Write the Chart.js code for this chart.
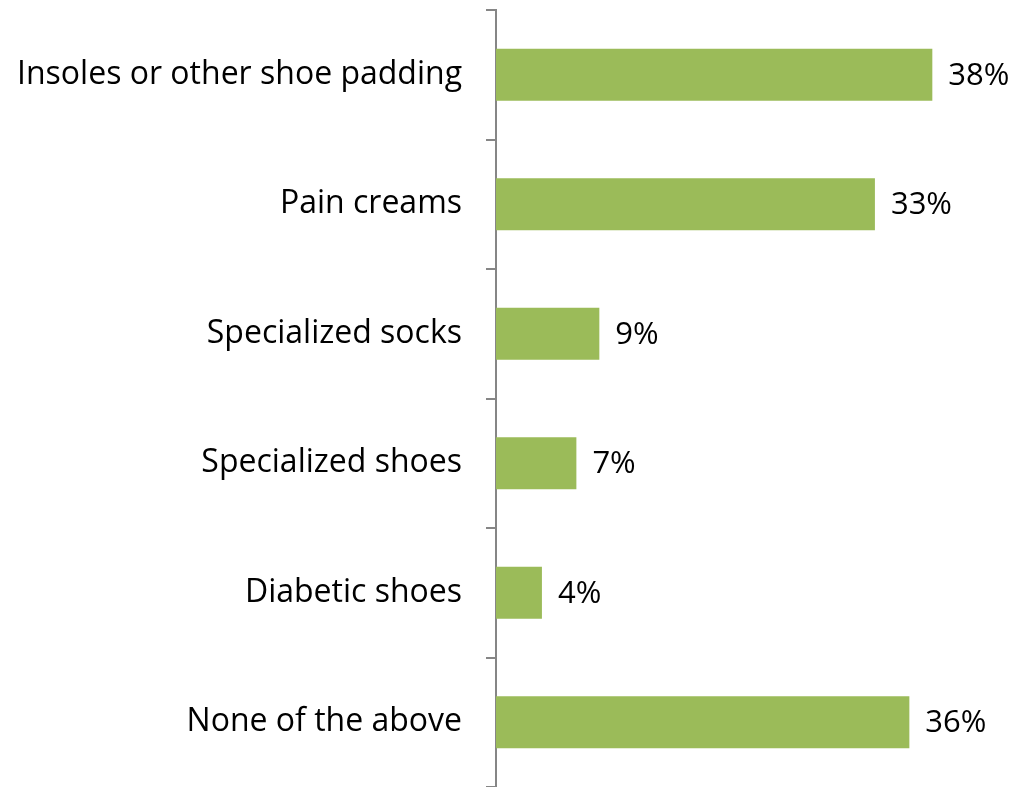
<!DOCTYPE html>
<html>
<head>
<meta charset="utf-8">
<script src="https://cdn.jsdelivr.net/npm/chart.js@4"></script>
<style>
  html, body { margin: 0; padding: 0; background: #fff; }
  #wrap { width: 1015px; height: 787px; }
</style>
</head>
<body>
<div id="wrap"><canvas id="footChart"></canvas></div>
<script>
const categories = [
  "Insoles or other shoe padding",
  "Pain creams",
  "Specialized socks",
  "Specialized shoes",
  "Diabetic shoes",
  "None of the above"
];
const shares = [38, 33, 9, 7, 4, 36];
const xMax = 45.2;

const FONT = "'Open Sans', sans-serif";

// writes "NN%" just past the end of each bar
const valueLabels = {
  id: "valueLabels",
  afterDatasetsDraw(chart) {
    const ctx = chart.ctx;
    const meta = chart.getDatasetMeta(0);
    ctx.save();
    ctx.font = "31px " + FONT;
    ctx.fillStyle = "#000";
    ctx.textAlign = "left";
    ctx.textBaseline = "middle";
    meta.data.forEach((bar, i) => {
      ctx.fillText(shares[i] + "%", bar.x + 16, bar.y + 1);
    });
    ctx.restore();
  }
};

new Chart(document.getElementById("footChart"), {
  type: "bar",
  data: {
    labels: categories,
    datasets: [{
      data: shares,
      backgroundColor: "#9bbb59",
      borderWidth: 0,
      barPercentage: 1,
      categoryPercentage: 0.4
    }]
  },
  options: {
    indexAxis: "y",
    responsive: true,
    maintainAspectRatio: false,
    animation: false,
    layout: { padding: { top: 10, right: 0, bottom: 0, left: 0 } },
    plugins: {
      legend: { display: false },
      tooltip: { enabled: false }
    },
    scales: {
      x: {
        display: false,
        min: 0,
        max: xMax
      },
      y: {
        afterFit(scale) {
          scale.width = 496;
          scale.paddingTop = 0;
          scale.paddingBottom = 0;
        },
        border: { display: true, color: "#868686", width: 2 },
        grid: {
          offset: true,
          drawOnChartArea: false,
          drawTicks: true,
          tickLength: 10,
          color: "#868686",
          lineWidth: 2
        },
        ticks: {
          color: "#000",
          padding: 24,
          font: { family: FONT, size: 32 }
        }
      }
    }
  },
  plugins: [valueLabels]
});
</script>
</body>
</html>
